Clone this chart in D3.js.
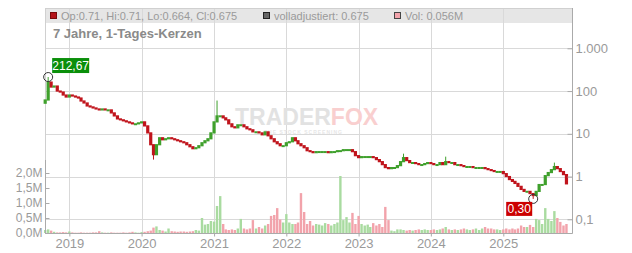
<!DOCTYPE html>
<html>
<head>
<meta charset="utf-8">
<script src="https://cdn.jsdelivr.net/npm/d3@7"></script>
<style>
  body { margin: 0; background: #fff; }
  svg { display: block; font-family: "Liberation Sans", Arial, sans-serif; }
</style>
</head>
<body>
<div id="chart"></div>
<script>
// half-month candles, Sep 2018 .. Nov 2025
var closes = [
  61.8, 162, 124, 131, 100, 94.8, 80.7, 72.5, 80.7, 76.5,
  72.5, 68.7, 58.5, 52.6, 44.8, 42.5, 40.2, 38.1, 36.2, 38.1,
  36.2, 36.2, 30.8, 26.2, 22.3, 21.2, 20.1, 19.0, 18.0, 17.1,
  17.1, 18.0, 19.0, 15.3, 10.5, 5.55, 3.25, 5.55, 8.07, 7.25,
  7.65, 8.07, 7.65, 7.25, 6.87, 6.51, 6.17, 5.55, 4.98, 4.48,
  4.72, 5.26, 6.17, 6.87, 7.65, 10.5, 19.0, 26.2, 26.2, 23.6,
  21.2, 17.1, 14.6, 13.8, 16.2, 16.2, 14.6, 13.1, 12.4, 11.1,
  11.1, 10.5, 9.48, 11.1, 8.98, 7.65, 6.51, 5.85, 5.26, 5.26,
  6.17, 6.51, 8.07, 6.87, 5.85, 5.26, 4.72, 4.02, 3.82, 3.62,
  3.82, 3.82, 3.82, 3.82, 3.62, 3.82, 3.82, 4.02, 4.02, 4.25,
  4.25, 4.25, 3.82, 3.08, 2.77, 2.92, 2.92, 2.92, 2.92, 2.77,
  2.49, 2.23, 1.90, 1.62, 1.53, 1.62, 1.62, 1.80, 2.23, 2.77,
  2.36, 2.12, 2.12, 2.01, 1.90, 1.90, 2.01, 2.12, 2.01, 1.90,
  1.90, 2.12, 1.90, 2.23, 2.12, 2.12, 1.90, 1.90, 1.80, 1.71,
  1.71, 1.71, 1.62, 1.62, 1.62, 1.62, 1.53, 1.45, 1.38, 1.31,
  1.31, 1.31, 1.17, 1.00, 0.85, 0.77, 0.69, 0.59, 0.50, 0.45,
  0.45, 0.40, 0.36, 0.45, 0.65, 0.65, 1.05, 1.24, 1.45, 1.71,
  1.53, 1.31, 1.11, 0.675
];
var firstOpen = 52;

// volume in millions
var volumes = [
  0.10, 0.12, 0.08, 0.04, 0.02, 0.02, 0.03, 0.02, 0.05, 0.02,
  0.01, 0.01, 0.02, 0.01, 0.01, 0.01, 0.02, 0.02, 0.06, 0.02,
  0.01, 0.01, 0.02, 0.01, 0.01, 0.01, 0.02, 0.01, 0.02, 0.04,
  0.02, 0.01, 0.03, 0.04, 0.06, 0.08, 0.18, 0.22, 0.10, 0.08,
  0.05, 0.15, 0.06, 0.05, 0.04, 0.05, 0.05, 0.04, 0.05, 0.06,
  0.10, 0.08, 0.50, 0.28, 0.30, 0.40, 0.38, 0.90, 1.23, 0.30,
  0.12, 0.10, 0.12, 0.10, 0.15, 0.47, 0.15, 0.12, 0.15, 0.43,
  0.15, 0.20, 0.15, 0.25, 0.30, 0.57, 0.60, 0.83, 0.45, 0.35,
  0.63, 0.35, 0.30, 0.30, 0.35, 1.33, 0.70, 0.30, 0.40, 0.25,
  0.30, 0.28, 0.25, 0.33, 0.30, 0.25, 0.30, 0.35, 1.90, 0.43,
  0.53, 0.35, 0.67, 0.30, 0.57, 0.30, 0.25, 0.28, 0.20, 0.33,
  0.25, 0.30, 0.20, 0.87, 0.43, 0.08, 0.06, 0.12, 0.12, 0.10,
  0.08, 0.10, 0.08, 0.10, 0.12, 0.10, 0.12, 0.10, 0.10, 0.12,
  0.10, 0.12, 0.15, 0.20, 0.12, 0.10, 0.12, 0.10, 0.12, 0.15,
  0.12, 0.10, 0.12, 0.15, 0.10, 0.15, 0.20, 0.15, 0.15, 0.12,
  0.12, 0.10, 0.12, 0.15, 0.12, 0.15, 0.12, 0.15, 0.25, 0.20,
  0.20, 0.27, 0.20, 0.47, 0.43, 0.30, 0.83, 0.47, 0.40, 0.73,
  0.50, 0.37, 0.25, 0.30
];

// [candle index, wick value]
var wickHighs = [[1, 212.67], [57, 60.0], [119, 3.43], [133, 2.92], [169, 2.12]];
var wickLows = [[36, 2.49], [162, 0.30]];

var priceTicks = [0.1, 1, 10, 100, 1000];
var volTicks = [0, 0.5, 1.0, 1.5, 2.0];
var yearTicks = [2019, 2020, 2021, 2022, 2023, 2024, 2025];

var legendItems = [
  { text: "Op:0.71, Hi:0.71, Lo:0.664, Cl:0.675", fill: "#b4141a", stroke: "#7a0a0a", x: 50 },
  { text: "volladjustiert: 0.675", fill: "#666", stroke: "#222", x: 263 },
  { text: "Vol: 0.056M", fill: "#f2a3ab", stroke: "#444", x: 394 }
];
var title = "7 Jahre, 1-Tages-Kerzen";

document.addEventListener('DOMContentLoaded', function () {
  drawChart();
});

function drawChart() {
  var width = 632, height = 253;
  var left = 45, right = 572, top = 8, bottom = 233;

  var de = d3.formatLocale({ decimal: ",", thousands: ".", grouping: [3], currency: ["", "€"] });

  var svg = d3.select("#chart").append("svg")
              .attr("width", width)
              .attr("height", height);

  var dates = d3.range(closes.length).map(function (i) {
    return new Date(2018, 8 + Math.floor(i / 2), i % 2 === 0 ? 1 : 16);
  });

  var x = d3.scaleTime()
            .domain([new Date(2018, 7, 31), new Date(2025, 11, 14)])
            .range([left, right]);

  var y = d3.scaleLog()
            .domain([0.1, 1000])
            .range([219.3, 48.3]);

  var yVol = d3.scaleLinear()
               .domain([0, 2])
               .range([bottom, 173]);

  // legend bar
  svg.append("rect")
     .attr("x", left).attr("y", top)
     .attr("width", right - left).attr("height", 15)
     .attr("fill", "#e6e6e6");

  // grid
  svg.append("g").selectAll("line")
     .data(yearTicks)
     .enter().append("line")
     .attr("x1", function (d) { return Math.round(x(new Date(d, 0, 1))) + 0.5; })
     .attr("x2", function (d) { return Math.round(x(new Date(d, 0, 1))) + 0.5; })
     .attr("y1", top).attr("y2", bottom)
     .attr("stroke", "#d9d9d9");

  svg.append("g").selectAll("line")
     .data(priceTicks)
     .enter().append("line")
     .attr("x1", left).attr("x2", right)
     .attr("y1", function (d) { return Math.round(y(d)) + 0.5; })
     .attr("y2", function (d) { return Math.round(y(d)) + 0.5; })
     .attr("stroke", "#d9d9d9");

  // frame
  svg.append("rect")
     .attr("x", left + 0.5).attr("y", top + 0.5)
     .attr("width", right - left).attr("height", bottom - top)
     .attr("fill", "none")
     .attr("stroke", "#d0d0d0");

  // legend items
  var leg = svg.append("g").selectAll("g")
               .data(legendItems)
               .enter().append("g");
  leg.append("rect")
     .attr("x", function (d) { return d.x + 0.5; })
     .attr("y", 12.5)
     .attr("width", 6).attr("height", 6)
     .attr("fill", function (d) { return d.fill; })
     .attr("stroke", function (d) { return d.stroke; });
  leg.append("text")
     .attr("x", function (d) { return d.x + 11; })
     .attr("y", 19.5)
     .attr("fill", "#9a9a9a")
     .style("font-size", "11px")
     .text(function (d) { return d.text; });

  svg.append("text")
     .attr("x", 53).attr("y", 37.5)
     .attr("fill", "#8a8a8a")
     .style("font-size", "13px")
     .style("font-weight", "bold")
     .text(title);

  // watermark
  var wm = svg.append("g");
  wm.append("text")
    .attr("x", 235).attr("y", 124.5)
    .attr("fill", "#e2e2e2")
    .style("font-size", "23px")
    .style("font-weight", "bold")
    .text("TRADER")
    .append("tspan")
    .attr("fill", "#f9cfcf")
    .text("FOX");
  wm.append("text")
    .attr("x", 264).attr("y", 134)
    .attr("fill", "#e6e6e6")
    .style("font-size", "5px")
    .style("font-weight", "bold")
    .style("letter-spacing", "1px")
    .text("THE STOCK SCREENING");

  // candle table
  var hiMap = new Map(wickHighs), loMap = new Map(wickLows);
  var candles = closes.map(function (c, i) {
    var o = i === 0 ? firstOpen : closes[i - 1];
    var hi = Math.max(o, c, hiMap.get(i) || 0);
    var lo = Math.min(o, c, loMap.get(i) || Infinity);
    return { date: dates[i], open: o, close: c, high: hi, low: lo, vol: volumes[i], up: c >= o };
  });

  // volume bars
  svg.append("g").selectAll("rect")
     .data(candles)
     .enter().append("rect")
     .attr("x", function (d) { return x(d.date) - 1.2; })
     .attr("width", 2.4)
     .attr("y", function (d) { return yVol(d.vol); })
     .attr("height", function (d) { return bottom - yVol(d.vol); })
     .attr("fill", function (d) { return d.up ? "#a9dba0" : "#f2a3ab"; });

  // candles
  var cg = svg.append("g");
  cg.selectAll("line")
    .data(candles)
    .enter().append("line")
    .attr("x1", function (d) { return x(d.date); })
    .attr("x2", function (d) { return x(d.date); })
    .attr("y1", function (d) { return y(d.high); })
    .attr("y2", function (d) { return y(d.low); })
    .attr("stroke", function (d) { return d.up ? "#3fa02c" : "#c0141c"; })
    .attr("stroke-width", 1);
  cg.selectAll("rect")
    .data(candles)
    .enter().append("rect")
    .attr("x", function (d) { return x(d.date) - 1.6; })
    .attr("width", 3.2)
    .attr("y", function (d) { return y(Math.max(d.open, d.close)) - 0.6; })
    .attr("height", function (d) { return Math.max(2, Math.abs(y(d.open) - y(d.close)) + 1.2); })
    .attr("fill", function (d) { return d.up ? "#3fa02c" : "#c0141c"; });

  // high / low markers
  var hiC = candles.reduce(function (a, b) { return b.high > a.high ? b : a; });
  var loC = candles.reduce(function (a, b) { return b.low < a.low ? b : a; });

  svg.append("circle")
     .attr("cx", x(hiC.date)).attr("cy", y(hiC.high))
     .attr("r", 4.5).attr("fill", "none").attr("stroke", "#333");
  svg.append("rect")
     .attr("x", x(hiC.date) + 4).attr("y", y(hiC.high) - 19)
     .attr("width", 37).attr("height", 15)
     .attr("fill", "#0a8f0a");
  svg.append("text")
     .attr("x", x(hiC.date) + 22.5).attr("y", y(hiC.high) - 7.5)
     .attr("text-anchor", "middle")
     .attr("fill", "#fff")
     .style("font-size", "12px")
     .text(de.format(",.2f")(hiC.high));

  svg.append("circle")
     .attr("cx", x(loC.date)).attr("cy", y(loC.low))
     .attr("r", 4.5).attr("fill", "none").attr("stroke", "#333");
  svg.append("rect")
     .attr("x", x(loC.date) - 27).attr("y", y(loC.low) + 3)
     .attr("width", 26).attr("height", 14)
     .attr("fill", "#cc0000");
  svg.append("text")
     .attr("x", x(loC.date) - 14).attr("y", y(loC.low) + 14.5)
     .attr("text-anchor", "middle")
     .attr("fill", "#fff")
     .style("font-size", "12px")
     .text(de.format(",.2f")(loC.low));

  // right price axis
  var yAxis = svg.append("g")
                 .attr("transform", "translate(" + (right + 0.5) + ",0)")
                 .call(d3.axisRight(y).tickValues(priceTicks).tickSize(-5).tickPadding(8)
                        .tickFormat(function (d) { return d >= 1 ? de.format(",.0f")(d) : de.format(".1f")(d); }));
  yAxis.select(".domain").attr("stroke", "#aaa").attr("d", "M0," + top + "V" + bottom);
  yAxis.selectAll(".tick line").attr("stroke", "#aaa");
  yAxis.selectAll(".tick text").attr("fill", "#9a9a9a").attr("x", 3).style("font-size", "13px")
       .style("font-family", "'Liberation Sans', Arial, sans-serif");

  // left volume axis
  var vAxis = svg.append("g")
                 .attr("transform", "translate(" + (left + 0.5) + ",0)")
                 .call(d3.axisLeft(yVol).tickValues(volTicks).tickSize(-4)
                        .tickFormat(function (d) { return de.format(".1f")(d) + "M"; }));
  vAxis.select(".domain").attr("stroke", "#aaa").attr("d", "M0," + 160 + "V" + bottom);
  vAxis.selectAll(".tick line").attr("stroke", "#aaa");
  vAxis.selectAll(".tick text").attr("fill", "#9a9a9a").attr("x", -3).style("font-size", "12px")
       .style("font-family", "'Liberation Sans', Arial, sans-serif");

  // bottom axis
  var xAxis = svg.append("g")
                 .attr("transform", "translate(0," + (bottom + 0.5) + ")")
                 .call(d3.axisBottom(x).tickValues(yearTicks.map(function (d) { return new Date(d, 0, 1); }))
                        .tickSize(3).tickPadding(2).tickFormat(d3.timeFormat("%Y")));
  xAxis.select(".domain").attr("stroke", "#aaa").attr("d", "M" + left + ",0H" + (right + 0.5));
  xAxis.selectAll(".tick line").attr("stroke", "#aaa");
  xAxis.selectAll(".tick text").attr("fill", "#9a9a9a").style("font-size", "13px")
       .style("font-family", "'Liberation Sans', Arial, sans-serif");
}
</script>
</body>
</html>
